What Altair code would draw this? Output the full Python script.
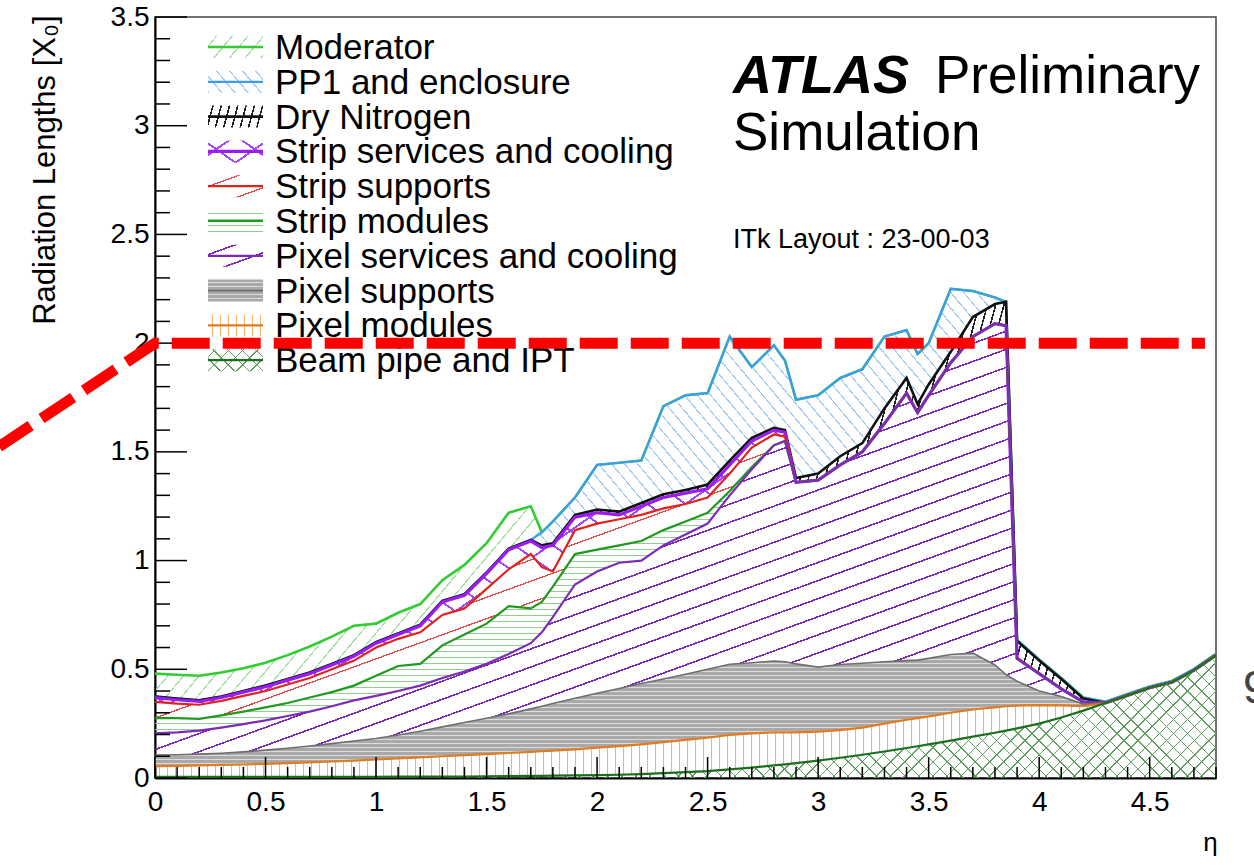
import math

import altair as alt
import pandas as pd

FONT = "Liberation Sans, Arial, Helvetica, sans-serif"

# ---------------------------------------------------------------------------
# Stacked radiation-length budget versus pseudorapidity.
# Each list holds the cumulative height reached once that contribution is
# stacked on the ones below it; None means the contribution is absent there.
# ---------------------------------------------------------------------------
eta = [0.0, 0.1, 0.2, 0.3, 0.4, 0.5, 0.6, 0.7, 0.8, 0.9,
       1.0, 1.1, 1.2, 1.3, 1.4, 1.5, 1.6, 1.7, 1.75, 1.8, 1.9,
       2.0, 2.1, 2.2, 2.3, 2.4, 2.5, 2.6, 2.7, 2.8, 2.85, 2.9,
       3.0, 3.1, 3.2, 3.3, 3.4, 3.45, 3.5, 3.6, 3.7, 3.8, 3.85, 3.9,
       4.0, 4.1, 4.2, 4.3, 4.4, 4.5, 4.6, 4.7, 4.8]

beam_pipe = [0.005, 0.005, 0.005, 0.005, 0.005, 0.005, 0.005, 0.005, 0.005, 0.005,
             0.005, 0.006, 0.006, 0.007, 0.007, 0.008, 0.009, 0.010, 0.010, 0.011, 0.012,
             0.013, 0.015, 0.018, 0.022, 0.027, 0.032, 0.040, 0.048, 0.058, 0.063, 0.068,
             0.080, 0.093, 0.107, 0.122, 0.138, 0.146, 0.155, 0.172, 0.190, 0.208, 0.218, 0.228,
             0.250, 0.278, 0.310, 0.345, 0.380, 0.415, 0.440, 0.495, 0.565]

pixel_modules = [0.055, 0.056, 0.058, 0.060, 0.062, 0.065, 0.068, 0.072, 0.076, 0.080,
                 0.085, 0.090, 0.095, 0.100, 0.105, 0.110, 0.115, 0.120, 0.123, 0.126, 0.132,
                 0.140, 0.147, 0.155, 0.165, 0.175, 0.185, 0.198, 0.205, 0.210, 0.210, 0.210,
                 0.213, 0.220, 0.232, 0.250, 0.268, 0.275, 0.283, 0.300, 0.315, 0.325, 0.330, 0.333,
                 0.335, 0.334, 0.330, None, None, None, None, None, None]

pixel_supports = [0.105, 0.107, 0.110, 0.114, 0.120, 0.128, 0.137, 0.147, 0.158, 0.170,
                  0.182, 0.198, 0.215, 0.235, 0.255, 0.275, 0.295, 0.318, 0.330, 0.343, 0.367,
                  0.390, 0.412, 0.435, 0.455, 0.477, 0.500, 0.523, 0.530, 0.538, 0.535, 0.525,
                  0.510, 0.522, 0.528, 0.535, 0.540, 0.542, 0.550, 0.568, 0.575, 0.520, 0.475, 0.445,
                  0.400, 0.375, 0.340, None, None, None, None, None, None]

pixel_services = [0.205, 0.210, 0.218, 0.232, 0.248, 0.265, 0.285, 0.305, 0.330, 0.357,
                  0.378, 0.400, 0.425, 0.460, 0.490, 0.525, 0.570, 0.620, 0.670, 0.740, 0.890,
                  0.950, 0.990, 1.000, 1.070, 1.120, 1.170, 1.300, 1.420, 1.530, 1.550, 1.360,
                  1.370, 1.440, 1.500, 1.630, 1.770, 1.680, 1.760, 1.910, 2.030, 2.090, 2.080, 0.550,
                  0.480, 0.410, 0.350, None, None, None, None, None, None]

strip_modules = [0.275, 0.275, 0.272, 0.288, 0.305, 0.325, 0.345, 0.370, 0.395, 0.425,
                 0.470, 0.515, 0.525, 0.610, 0.660, 0.710, 0.790, 0.780, 0.810, 0.880, 1.030,
                 1.050, 1.070, 1.090, 1.140, 1.180, 1.220, 1.320, 1.430, 1.530, 1.550, None,
                 None, None, None, None, None, None, None, None, None, None, None, None,
                 None, None, None, None, None, None, None, None, None]

strip_supports = [0.350, 0.342, 0.337, 0.355, 0.378, 0.400, 0.430, 0.460, 0.500, 0.540,
                  0.600, 0.640, 0.670, 0.750, 0.780, 0.870, 0.960, 1.030, 0.970, 0.950, 1.140,
                  1.170, 1.190, 1.210, 1.240, 1.260, 1.290, 1.400, 1.520, 1.580, 1.570, None,
                  None, None, None, None, None, None, None, None, None, None, None, None,
                  None, None, None, None, None, None, None, None, None]

strip_services = [0.370, 0.360, 0.352, 0.370, 0.395, 0.420, 0.450, 0.480, 0.520, 0.560,
                  0.620, 0.660, 0.700, 0.810, 0.840, 0.940, 1.050, 1.090, 1.060, 1.070, 1.200,
                  1.220, 1.210, 1.250, 1.290, 1.310, 1.330, 1.440, 1.550, 1.600, 1.590, None,
                  None, None, None, None, None, None, None, None, None, None, None, None,
                  None, None, None, None, None, None, None, None, None]

dry_nitrogen = [0.375, 0.365, 0.357, 0.375, 0.400, 0.425, 0.455, 0.485, 0.525, 0.565,
                0.625, 0.665, 0.705, 0.815, 0.845, 0.945, 1.055, 1.095, 1.070, 1.080, 1.210,
                1.235, 1.225, 1.265, 1.305, 1.325, 1.350, 1.460, 1.565, 1.610, 1.600, 1.380,
                1.400, 1.480, 1.540, 1.700, 1.840, 1.720, 1.810, 1.960, 2.120, 2.180, 2.190, 0.630,
                0.540, 0.455, 0.365, None, None, None, None, None, None]

pp1_enclosure = [None, None, None, None, None, None, None, None, None, None,
                 None, None, None, None, None, None, None, None, 1.130, 1.180, 1.290,
                 1.440, 1.450, 1.460, 1.710, 1.760, 1.770, 2.030, 1.890, 1.990, 1.920, 1.740,
                 1.760, 1.840, 1.880, 2.030, 2.060, 1.950, 2.000, 2.250, 2.240, 2.210, 2.190, 0.635,
                 0.545, 0.460, 0.370, 0.351, 0.386, 0.421, 0.446, 0.501, 0.571]

moderator = [0.480, 0.475, 0.470, 0.485, 0.505, 0.530, 0.565, 0.605, 0.650, 0.700,
             0.710, 0.760, 0.800, 0.910, 0.980, 1.080, 1.220, 1.250, None, None, None,
             None, None, None, None, None, None, None, None, None, None, None,
             None, None, None, None, None, None, None, None, None, None, None, None,
             None, None, None, None, None, None, None, None, None]

# stacking order, bottom first
layer_names = ["Beam pipe and IPT", "Pixel modules", "Pixel supports",
               "Pixel services and cooling", "Strip modules", "Strip supports",
               "Strip services and cooling", "Dry Nitrogen", "PP1 and enclosure",
               "Moderator"]
layer_tops = [beam_pipe, pixel_modules, pixel_supports, pixel_services,
              strip_modules, strip_supports, strip_services, dry_nitrogen,
              pp1_enclosure, moderator]

x_labels = [0, 0.5, 1, 1.5, 2, 2.5, 3, 3.5, 4, 4.5]
y_labels = [0, 0.5, 1, 1.5, 2, 2.5, 3, 3.5]

# the 2 X0 reference line, entering from the left margin
limit_eta = [-0.8, 0.0, 4.75]
limit_x0 = [1.46, 2.0, 2.0]

# ---------------------------------------------------------------------------
# styling: outline colour/width and hatch specs (angle, spacing, width, colour)
# ---------------------------------------------------------------------------
STYLE = {
    "Beam pipe and IPT": dict(line="#1d6f1d", lw=2.2,
                              hatch=[(45, 10, 1.0, "#5f9f5f"), (-45, 10, 1.0, "#5f9f5f")]),
    "Pixel modules": dict(line="#e07b20", lw=2.2, hatch=[(90, 8, 1.3, "#f2b272")]),
    "Pixel supports": dict(line="#6e6e6e", lw=1.6, bg="#a9a9a9",
                           hatch=[(0, 4, 1.3, "#dcdcdc")]),
    "Pixel services and cooling": dict(line="#7b2bb8", lw=2.2,
                                       hatch=[(20, 17, 1.6, "#7b2bb8")]),
    "Strip modules": dict(line="#1f9a1f", lw=2.2, hatch=[(0, 6, 1.2, "#8fd08f")]),
    "Strip supports": dict(line="#e0231d", lw=2.2, hatch=[(20, 20, 1.3, "#e24a4a")]),
    "Strip services and cooling": dict(line="#9b1cf2", lw=3.2,
                                       hatch=[(35, 22, 2.0, "#a548f2"), (-35, 22, 2.0, "#a548f2")]),
    "Dry Nitrogen": dict(line="#111111", lw=2.6, hatch=[(75, 8, 1.6, "#222222")]),
    "PP1 and enclosure": dict(line="#3d9cf0", lw=2.2, hatch=[(-50, 10, 1.2, "#a3cbf2")]),
    "Moderator": dict(line="#33cc33", lw=2.6, hatch=[(50, 12, 1.2, "#9fe09f")]),
}
CLEAR = "rgba(255,255,255,0)"

PLOT_W, PLOT_H = 1061, 761
X_MAX, Y_MAX = 4.8, 3.5


def hatch_fill(w, h, angle, spacing, width, color, gap=CLEAR):
    """Striped linear gradient (bounding-box units) that mimics a hatch pattern
    of lines at `angle` degrees, `spacing` px apart, on a w x h pixel box."""
    a = math.radians(angle)
    nx, ny = math.sin(a), math.cos(a)
    gx, gy = nx * w, ny * h
    corners = [(0, 0), (1, 0), (0, 1), (1, 1)]
    s = [gx * u + gy * v for u, v in corners]
    smin, smax = min(s), max(s)
    span = max(smax - smin, 1e-6)
    g2 = max(gx * gx + gy * gy, 1e-9)
    k = span / g2
    u0, v0 = corners[s.index(smin)]
    step, lw = spacing / span, width / span
    stops = [alt.GradientStop(color=gap, offset=0)]
    t = step / 2
    while t < 1:
        t1 = min(t + lw, 1)
        o0, o1 = round(t, 5), round(t1, 5)
        stops += [alt.GradientStop(color=gap, offset=o0),
                  alt.GradientStop(color=color, offset=o0),
                  alt.GradientStop(color=color, offset=o1),
                  alt.GradientStop(color=gap, offset=o1)]
        t += step
    stops.append(alt.GradientStop(color=gap, offset=1))
    return alt.LinearGradient(gradient="linear", stops=stops,
                              x1=round(u0, 5), y1=round(v0, 5),
                              x2=round(u0 + gx * k, 5), y2=round(v0 + gy * k, 5))


x_scale = alt.Scale(domain=[0, X_MAX], nice=False, zero=False)
y_scale = alt.Scale(domain=[0, Y_MAX], nice=False, zero=False)

x_axis = alt.Axis(title="η", values=x_labels, format="~g", grid=False, ticks=False,
                  tickSize=0, domainColor="black", domainWidth=2, labelFont=FONT,
                  labelFontSize=28, labelColor="black", labelPadding=10, labelFlush=False,
                  titleFont=FONT, titleFontSize=26, titleFontWeight="normal",
                  titleColor="black", titleX=1055, titleY=72, titleAlign="center",
                  titleBaseline="alphabetic")
y_axis = alt.Axis(title="Radiation Lengths [X₀]", values=y_labels, format="~g", grid=False,
                  ticks=False, tickSize=0, domainColor="black", domainWidth=2,
                  labelFont=FONT, labelFontSize=28, labelColor="black", labelPadding=6,
                  titleFont=FONT, titleFontSize=31, titleFontWeight="normal",
                  titleColor="black", titleAngle=270, titleAlign="right",
                  titleBaseline="alphabetic", titleX=-101, titleY=-2)


def X(field):
    return alt.X(f"{field}:Q", scale=x_scale, axis=x_axis)


def Y(field):
    return alt.Y(f"{field}:Q", scale=y_scale, axis=y_axis)


# cumulative bands
bands = []
prev = [0.0] * len(eta)
for name, vals in zip(layer_names, layer_tops):
    cur = [p if v is None else max(v, p) for v, p in zip(vals, prev)]
    bands.append((name, pd.DataFrame({"eta": eta, "lo": prev, "hi": cur})))
    prev = cur

layers = []
# upper contributions first, so lower outlines end up on top
for name, df in reversed(bands):
    st = STYLE[name]
    w = PLOT_W * (max(eta) - min(eta)) / X_MAX
    h = max((df["hi"].max() - df["lo"].min()) * PLOT_H / Y_MAX, 1)
    for j, spec in enumerate(st["hatch"]):
        gap = st.get("bg", CLEAR) if j == 0 else CLEAR
        layers.append(
            alt.Chart(df).mark_area(fill=hatch_fill(w, h, *spec, gap=gap), interpolate="linear")
            .encode(x=X("eta"), y=Y("hi"), y2=alt.Y2("lo"))
        )
    layers.append(
        alt.Chart(df).mark_line(color=st["line"], strokeWidth=st["lw"], interpolate="linear")
        .encode(x=X("eta"), y=Y("hi"))
    )

# inward-pointing ticks
y_major = pd.DataFrame({"v": y_labels})
y_minor = pd.DataFrame({"v": [round(i * 0.1, 1) for i in range(36) if i % 5]})
x_major = pd.DataFrame({"v": x_labels})
x_minor = pd.DataFrame({"v": [round(i * 0.1, 1) for i in range(49) if i % 5]})
for tdf, length in ((y_major, 32), (y_minor, 15)):
    layers.append(alt.Chart(tdf).mark_rule(color="black", strokeWidth=1.5)
                  .encode(y=Y("v"), x=alt.value(0), x2=alt.value(length)))
for tdf, length in ((x_major, 21), (x_minor, 11)):
    layers.append(alt.Chart(tdf).mark_rule(color="black", strokeWidth=1.5)
                  .encode(x=X("v"), y=alt.value(PLOT_H), y2=alt.value(PLOT_H - length)))

# legend
one = pd.DataFrame({"k": [0]})
SW_X0, SW_X1, SW_H = 53, 108, 22
for k, name in enumerate(reversed(layer_names)):
    st = STYLE[name]
    base = 42 + 34.8 * k
    yc = base - 12
    for j, spec in enumerate(st["hatch"]):
        gap = st.get("bg", CLEAR) if j == 0 else CLEAR
        layers.append(
            alt.Chart(one).mark_rect(fill=hatch_fill(SW_X1 - SW_X0, SW_H, *spec, gap=gap))
            .encode(x=alt.value(SW_X0), x2=alt.value(SW_X1),
                    y=alt.value(yc - SW_H / 2), y2=alt.value(yc + SW_H / 2))
        )
    layers.append(
        alt.Chart(one).mark_rule(color=st["line"], strokeWidth=st["lw"])
        .encode(x=alt.value(SW_X0), x2=alt.value(SW_X1), y=alt.value(yc))
    )
    layers.append(
        alt.Chart(one).mark_text(text=name, font=FONT, fontSize=35, align="left",
                                 baseline="alphabetic", color="black")
        .encode(x=alt.value(120), y=alt.value(base))
    )

# labels
labels = [
    ("ATLAS", 578, 76, 54, "bold", "italic", "black"),
    ("Preliminary", 780, 76, 53, "normal", "normal", "black"),
    ("Simulation", 578, 133, 53, "normal", "normal", "black"),
    ("ITk Layout : 23-00-03", 578, 231, 27, "normal", "normal", "black"),
    ("9", 1088, 686, 46, "normal", "normal", "#444444"),
]
for text, tx, ty, size, weight, style, color in labels:
    layers.append(
        alt.Chart(one).mark_text(text=text, font=FONT, fontSize=size, fontWeight=weight,
                                 fontStyle=style, align="left", baseline="alphabetic",
                                 color=color)
        .encode(x=alt.value(tx), y=alt.value(ty))
    )

# 2 X0 reference line
limit_df = pd.DataFrame({"eta": limit_eta, "x0": limit_x0})
layers.append(
    alt.Chart(limit_df).mark_line(color="#ff0000", strokeWidth=11, strokeDash=[38, 13],
                                  strokeDashOffset=26)
    .encode(x=X("eta"), y=Y("x0"))
)

chart = (
    alt.layer(*layers)
    .properties(width=PLOT_W, height=PLOT_H,
                padding={"left": 155, "top": 17, "right": 38, "bottom": 87},
                autosize=alt.AutoSizeParams(type="none"), background="white")
    .configure_view(stroke="#444444", strokeWidth=1.5)
)

chart.save("out.html", embed_options={"renderer": "svg", "actions": False})
